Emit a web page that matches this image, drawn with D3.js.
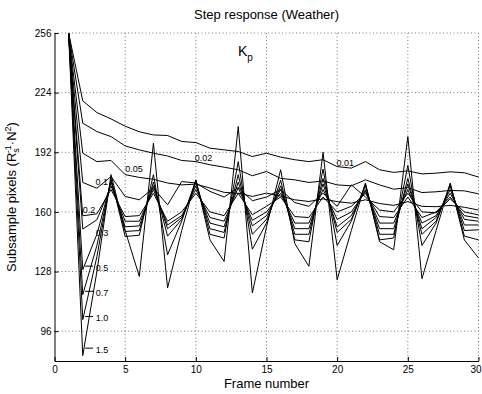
<!DOCTYPE html>
<html><head><meta charset="utf-8">
<script src="https://cdn.jsdelivr.net/npm/d3@7/dist/d3.min.js"></script>
<style>body{margin:0;background:#fff} text{font-family:"Liberation Sans",Arial,Helvetica,sans-serif;fill:#000}</style>
</head><body><svg id="c" width="482" height="394"></svg>
<script>
const frames = [1,2,3,4,5,6,7,8,9,10,11,12,13,14,15,16,17,18,19,20,21,22,23,24,25,26,27,28,29,30];
const kpLabels = ["0.01","0.02","0.05","0.1","0.2","0.3","0.5","0.7","1.0","1.5"];
const kp001 = [256,219.6,213.3,209.9,206.0,203.0,201.3,201.0,197.8,197.2,194.2,193.3,192.4,189.7,191.5,189.4,188.0,187.0,188.0,184.3,183.5,187.0,182.6,181.2,182.0,180.4,180.8,181.5,181.0,178.7];
const kp002 = [256,207.6,203.1,200.4,195.4,193.3,191.5,190.0,187.6,187.0,185.3,184.0,182.6,179.4,181.7,178.0,177.2,175.8,176.6,174.5,174.0,177.2,174.5,172.2,173.0,170.4,170.8,171.5,171.3,169.7];
const kp005 = [256,191.5,187.0,187.6,180.0,178.5,177.5,175.5,174.5,174.9,172.8,170.5,170.0,168.3,170.1,168.5,166.5,165.6,167.0,165.5,164.7,166.5,164.5,163.5,165.5,163.0,162.8,163.5,162.5,161.0];
const kp01  = [256,175.8,172.7,179.0,168.3,166.5,172.8,163.8,176.3,175.5,171.0,168.0,173.0,166.0,168.0,172.0,165.0,163.0,170.0,163.0,174.5,168.0,161.0,160.0,170.0,160.0,159.5,167.0,160.0,158.4];
const kp02  = [256,157.9,159.0,172.0,157.5,158.0,170.0,155.0,160.0,170.0,160.0,158.0,170.0,158.5,163.0,168.0,157.5,157.0,168.0,160.0,163.0,170.0,157.5,157.0,168.0,157.0,160.0,168.0,158.0,156.7];
const kp03  = [256,150.8,155.8,174.0,155.0,155.0,172.0,153.0,158.0,172.0,157.0,155.0,173.0,155.5,160.0,170.0,154.0,154.0,172.0,156.0,160.0,171.0,154.0,154.0,172.0,154.0,158.0,170.0,156.0,155.0];
const kp05  = [256,129.0,148.0,176.0,152.0,152.5,174.0,151.0,157.0,174.0,154.0,152.0,176.0,152.5,158.0,172.0,151.0,151.0,175.0,152.0,158.0,172.0,151.0,151.0,175.0,151.0,157.0,172.0,153.0,153.0];
const kp07  = [256,115.6,142.0,177.0,149.5,150.0,176.0,147.0,156.0,176.0,151.0,149.0,180.0,148.0,156.0,174.0,148.0,148.0,178.0,149.0,156.0,174.0,148.0,148.0,178.0,148.0,155.0,174.0,150.0,150.4];
const kp10  = [256,102.2,136.0,178.0,146.8,147.5,180.0,137.0,155.0,177.0,148.0,146.0,187.0,140.0,154.0,177.0,145.0,144.0,183.0,142.0,155.0,175.0,145.0,146.0,185.0,142.0,154.0,175.0,147.0,145.0];
const kp15  = [256,82.9,128.0,180.0,150.0,125.4,196.9,119.2,150.0,177.2,145.0,133.4,205.8,116.5,152.0,182.6,143.0,130.8,192.0,123.6,150.0,175.5,144.0,139.7,200.4,124.2,150.0,175.5,145.0,135.3];
const xTicks = [0,5,10,15,20,25,30];
const yTicks = [96,128,160,192,224,256];

const allSeries = [kp001,kp002,kp005,kp01,kp02,kp03,kp05,kp07,kp10,kp15];

const svg = d3.select("#c");
const x = d3.scaleLinear().domain([0,30]).range([54.5,478.5]);
const y = d3.scaleLinear().domain([80,256]).range([361,33]);

// grid
const g = svg.append("g");
g.selectAll("line.vg").data(xTicks.filter(d=>d>0)).join("line")
 .attr("x1",d=>x(d)).attr("x2",d=>x(d)).attr("y1",y(256)).attr("y2",y(80))
 .attr("stroke","#555").attr("stroke-width",0.8).attr("stroke-dasharray","1,2.5");
g.selectAll("line.hg").data(yTicks).join("line")
 .attr("x1",x(0)).attr("x2",x(30)).attr("y1",d=>y(d)).attr("y2",d=>y(d))
 .attr("stroke","#555").attr("stroke-width",0.8).attr("stroke-dasharray","1,2.5");

// axes
const xa = svg.append("g").attr("transform",`translate(0,${y(80)})`)
 .call(d3.axisBottom(x).tickValues(xTicks).tickSize(-4).tickPadding(5).tickSizeOuter(0));
const ya = svg.append("g").attr("transform",`translate(${x(0)},0)`)
 .call(d3.axisLeft(y).tickValues(yTicks).tickSize(-4).tickPadding(3).tickSizeOuter(0));
[xa,ya].forEach(a=>{a.selectAll("text").attr("font-size",10).attr("font-family","Liberation Sans, Arial, sans-serif");
 a.select(".domain").attr("stroke","#000").attr("stroke-width",1);
 a.selectAll(".tick line").attr("stroke","#000");});
xa.selectAll(".tick text").filter(d=>d===30).attr("dx",-3);

// lines
const line = d3.line().x((d,i)=>x(frames[i])).y(d=>y(d));
svg.append("g").selectAll("path").data(allSeries).join("path")
 .attr("d",line).attr("fill","none").attr("stroke","#000").attr("stroke-width",1);

// labels (data coordinates)
const labelPos = [[19.95,184.5],[9.93,187.5],[5.0,181.5],[2.9,174.5],[2.0,159.5],[2.92,147.0],[2.92,128.5],[2.92,115.0],[2.92,101.5],[2.92,84.5]];
const lab = svg.append("g");
kpLabels.forEach((k,i)=>{
  lab.append("text").attr("x",x(labelPos[i][0])).attr("y",y(labelPos[i][1])).attr("font-size",9).text(k);
});
// leader ticks
[[128.5+2.4],[115.0+2.4],[101.5+2.4],[84.5+2.4]].forEach(v=>{
  lab.append("line").attr("x1",x(2.17)).attr("x2",x(2.73)).attr("y1",y(v[0])).attr("y2",y(v[0])).attr("stroke","#000").attr("stroke-width",1);
});

// K_p
const kp = svg.append("text").attr("x",x(12.98)).attr("y",y(243.5)).attr("font-size",14);
kp.append("tspan").text("K");
kp.append("tspan").attr("font-size",10).attr("dy",5).attr("dx",0).text("p");

// title
svg.append("text").attr("x",266.5).attr("y",18.5).attr("text-anchor","middle").attr("font-size",13).text("Step response (Weather)");
svg.append("text").attr("x",266.5).attr("y",388).attr("text-anchor","middle").attr("font-size",13).text("Frame number");
const yl = svg.append("text").attr("transform","translate(16,197) rotate(-90)").attr("text-anchor","middle").attr("font-size",13);
yl.append("tspan").text("Subsample pixels (R");
yl.append("tspan").attr("font-size",9).attr("dy",3).text("s");
yl.append("tspan").attr("font-size",9).attr("dy",-8).attr("dx",-5).text("-1");
yl.append("tspan").attr("dy",5).text("·N");
yl.append("tspan").attr("font-size",9).attr("dy",-5).text("2");
yl.append("tspan").attr("dy",5).text(")");
</script></body></html>
